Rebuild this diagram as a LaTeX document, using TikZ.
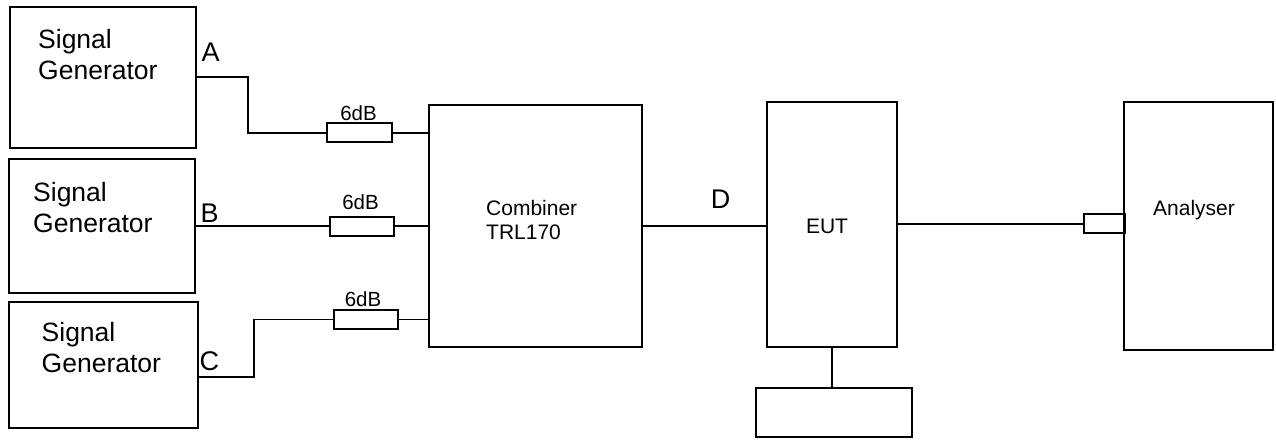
\documentclass[tikz,border=0pt]{standalone}
\usepackage{fontspec}
\setmainfont{Liberation Sans}
\begin{document}
\begin{tikzpicture}[x=1pt,y=-1pt,
  box/.style={draw, line width=2pt, inner sep=0pt, fill=white},
  att/.style={draw, line width=1.8pt, inner sep=0pt, minimum width=64pt, minimum height=19pt},
  wire/.style={line width=1.9pt},
  big/.style={inner sep=0pt, align=left, font=\fontsize{26.5}{31}\selectfont},
  mid/.style={inner sep=0pt, align=left, font=\fontsize{21}{24}\selectfont},
  lbl/.style={inner sep=0pt, font=\fontsize{27}{30}\selectfont},
  small/.style={inner sep=0pt, font=\fontsize{20.5}{24}\selectfont}]
\useasboundingbox (0,0) rectangle (1276,439);
% generators
\node[box, minimum width=186pt, minimum height=141pt] (sgA) at (103,77.5) {};
\node[box, minimum width=186pt, minimum height=134pt] (sgB) at (102,226) {};
\node[box, minimum width=189pt, minimum height=126pt] (sgC) at (103.5,365) {};
\node[big, anchor=north west] (tA) at (38,29.5) {Signal\\Generator};
\node[big, anchor=north west] (tB) at (33,182) {Signal\\Generator};
\node[big, anchor=north west] (tC) at (41.5,322) {Signal\\Generator};
% attenuators
\node[att, minimum width=65pt] (rA) at (359.5,132.3) {};
\node[att] (rB) at (361.7,226.2) {};
\node[att] (rC) at (366.3,319.5) {};
\node[small, anchor=base] (dA) at (358.5,120.5) {6dB};
\node[small, anchor=base] (dB) at (360.5,209) {6dB};
\node[small, anchor=base] (dC) at (363,306.5) {6dB};
% combiner
\node[box, minimum width=213pt, minimum height=242pt] (comb) at (535.5,226) {};
\node[mid, anchor=north west] (tcomb) at (486,199.7) {Combiner\\TRL170};
% EUT
\node[box, minimum width=130pt, minimum height=245pt] (eut) at (832,224.5) {};
\node[mid] (teut) at (827,226.7) {EUT};
\node[box, minimum width=156pt, minimum height=49pt] (bot) at (834.2,412.5) {};
% analyser
\node[box, minimum width=149pt, minimum height=248pt] (ana) at (1198.5,226) {};
\node[mid, anchor=base] (tana) at (1194,215) {Analyser};
\node[att, minimum width=40pt, minimum height=19.3pt] (conn) at (1104,223.7) {};
\draw[line width=3pt] (conn.north east) -- (conn.south east);
% labels
\node[lbl, anchor=base west] (lA) at (201.5,61.7) {A};
\node[lbl, anchor=base west] (lB) at (200.3,222.3) {B};
\node[lbl, anchor=base west] (lC) at (199.5,370) {C};
\node[lbl, anchor=base west] (lD) at (710.7,208.3) {D};
% wires
\coordinate (aout) at (196,77);
\coordinate (cout) at (198,376.7);
\draw[wire] (aout) -- (248,77) -- (248,133) -- (rA.west |- 0,133);
\draw[wire] (rA.east |- 0,133) -- (comb.west |- 0,133);
\draw[wire] (sgB.east) -- (rB.west |- sgB.east);
\draw[wire] (rB.east) -- (comb.west |- rB.east);
\draw[wire] (cout) -- (254,376.7) -- (254,319.5) -- (rC.west);
\draw[wire] (rC.east) -- (comb.west |- rC.east);
\draw[wire] (comb.east) -- (eut.west |- comb.east);
\draw[wire] (eut.east |- conn.west) -- (conn.west);
\draw[wire] (eut.south) -- (eut.south |- bot.north);
\end{tikzpicture}
\end{document}
